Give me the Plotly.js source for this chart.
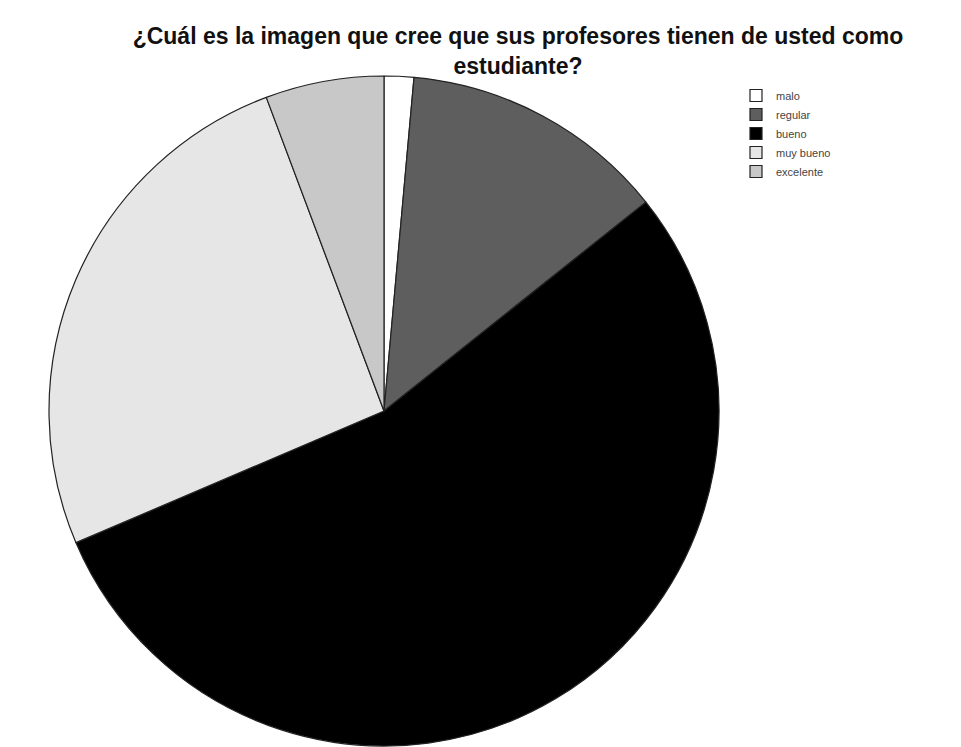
<!DOCTYPE html>
<html><head><meta charset="utf-8">
<script src="https://cdn.plot.ly/plotly-3.0.1.min.js"></script>
<style>html,body{margin:0;padding:0;background:#fff}</style>
</head><body>
<div id="chart" style="width:961px;height:747px"></div>
<script>
const categories = ["malo", "regular", "bueno", "muy bueno", "excelente"];
const counts = [1, 9, 38, 18, 4];
const sliceColors = ["#ffffff", "#5e5e5e", "#000000", "#e6e6e6", "#c8c8c8"];

const trace = {
  type: "pie",
  labels: categories,
  values: counts,
  sort: false,
  direction: "clockwise",
  rotation: 0,
  textinfo: "none",
  hoverinfo: "label+percent",
  marker: { colors: sliceColors, line: { color: "#222", width: 1.2 } },
  domain: { x: [49/961, 719/961], y: [1/747, 671/747] }
};

const layout = {
  width: 961, height: 747,
  margin: { l: 0, r: 0, t: 0, b: 0 },
  paper_bgcolor: "#fff",
  title: {
    text: "¿Cuál es la imagen que cree que sus profesores tienen de usted como<br>estudiante?",
    font: { family: "Liberation Sans, Arial, sans-serif", size: 23, color: "#111", weight: "bold" },
    x: 518/961, xanchor: "center", y: 1 - 44/747, yanchor: "top"
  },
  showlegend: true,
  legend: {
    x: 736/961, xanchor: "left", y: 1 - 81/747, yanchor: "top",
    font: { family: "Liberation Sans, Arial, sans-serif", size: 11, color: "#444" },
    tracegroupgap: 0, itemwidth: 30, traceorder: "normal",
    bgcolor: "rgba(0,0,0,0)"
  }
};

Plotly.newPlot("chart", [trace], layout, { displayModeBar: false, staticPlot: true });
</script>
</body></html>
